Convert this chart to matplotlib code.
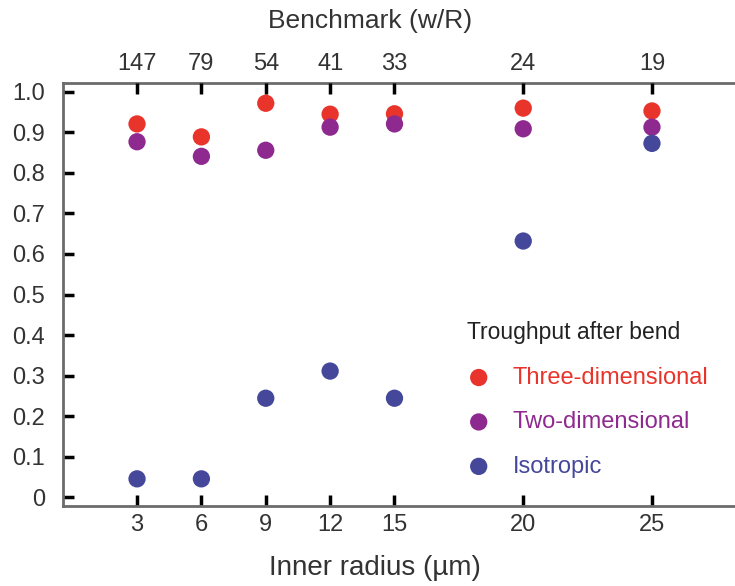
import numpy as np
import matplotlib
matplotlib.use("Agg")
import matplotlib.pyplot as plt

plt.rcParams['font.family'] = ['Liberation Sans', 'DejaVu Sans']

radius = [3, 6, 9, 12, 15, 20, 25]
benchmark = ['147', '79', '54', '41', '33', '24', '19']
three_d = [0.921, 0.889, 0.972, 0.945, 0.946, 0.960, 0.953]
two_d = [0.877, 0.841, 0.856, 0.913, 0.921, 0.909, 0.913]
isotropic = [0.045, 0.045, 0.244, 0.311, 0.244, 0.632, 0.873]
series_names = ['Three-dimensional', 'Two-dimensional', 'Isotropic']
colors = ['#e8342b', '#8e2a8f', '#44479a']

# piecewise-linear axis scale (spacing used in the original figure)
def fwd(x):
    x = np.asarray(x, dtype=float)
    return np.where(x <= 15, (x - 3) / 3.0, 4 + (x - 15) / 2.5)
def inv(y):
    y = np.asarray(y, dtype=float)
    return np.where(y <= 4, 3 + 3 * y, 15 + 2.5 * (y - 4))

fig = plt.figure(figsize=(7.35, 5.86), dpi=100)
ax = fig.add_axes([63/735, 1 - 506/586, 1 - 63/735, (506 - 83)/586])
ax.set_xscale('function', functions=(fwd, inv))

for vals, name, c in zip([three_d, two_d, isotropic], series_names, colors):
    ax.scatter(radius, vals, s=155, color=c, label=name, edgecolors='none', zorder=3)

xlim = (float(inv(-1.15)), float(inv(9.29)))
ax.set_xlim(*xlim)
ax.set_ylim(-0.022, 1.022)
ax.set_yticks(np.arange(0, 1.01, 0.1))
ax.set_yticklabels(['0'] + [f'{v:.1f}' for v in np.arange(0.1, 1.01, 0.1)])
ax.set_xticks(radius)
ax.set_xticklabels([str(r) for r in radius])
ax.minorticks_off()

for s in ['left', 'bottom', 'top']:
    ax.spines[s].set_color('#6b6b6b')
    ax.spines[s].set_linewidth(2)
ax.spines['right'].set_visible(False)
ax.tick_params(direction='in', length=8, width=2.5, color='black', labelsize=17,
               labelcolor='#333333')
ax.tick_params(axis='x', pad=6)
ax.tick_params(axis='y', pad=13)
ax.set_xlabel('Inner radius (µm)', fontsize=20, color='#333333', labelpad=8)
ax.xaxis.set_label_coords(0.464, -0.115)

top = ax.twiny()
top.set_xscale('function', functions=(fwd, inv))
top.set_xlim(*xlim)
top.set_xticks(radius)
top.set_xticklabels(benchmark)
top.minorticks_off()
top.tick_params(direction='in', length=8, width=2.5, color='black', labelsize=17,
                labelcolor='#333333', pad=5.5)
for s in top.spines.values():
    s.set_visible(False)
top.set_xlabel('Benchmark (w/R)', fontsize=19, color='#333333')
top.xaxis.set_label_coords(0.457, 1.13)

leg = ax.legend(title='Troughput after bend', loc='upper left',
                bbox_to_anchor=(0.587, 0.459), frameon=False, fontsize=17,
                title_fontsize=16.5, labelcolor=colors, labelspacing=0.95,
                handlelength=1.0, handletextpad=0.94, borderaxespad=0)
leg._legend_box.align = 'left'
leg.get_title().set_color('#222222')

fig.savefig('out.png', dpi=100)
